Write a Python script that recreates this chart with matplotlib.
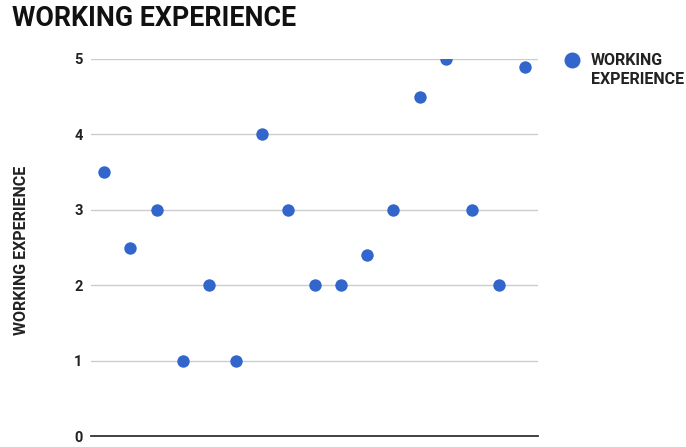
import matplotlib
matplotlib.use("Agg")
import matplotlib.pyplot as plt

# Data
series_name = "WORKING EXPERIENCE"
x_index = list(range(1, 18))
experience = [3.5, 2.5, 3, 1, 2, 1, 4, 3, 2, 2, 2.4, 3, 4.5, 5, 3, 2, 4.9]
y_ticks = [0, 1, 2, 3, 4, 5]

plt.rcParams['font.family'] = ['Roboto', 'DejaVu Sans']

fig = plt.figure(figsize=(6.86, 4.47), dpi=100)
ax = fig.add_axes([91/686, 1 - 436/447, (538 - 91)/686, (436 - 59)/447])

blue = "#3366CC"
ax.scatter(x_index, experience, s=80, color=blue, zorder=3, linewidths=0)

ax.set_xlim(0.5, 17.5)
ax.set_ylim(0, 5)
ax.set_yticks(y_ticks)
ax.set_yticklabels([str(t) for t in y_ticks], fontsize=10.5, fontweight='bold', color='#222222')
ax.set_xticks([])
ax.tick_params(axis='y', length=0, pad=6)

for t in y_ticks[1:]:
    ax.axhline(t, color='#cccccc', linewidth=1, zorder=1)
ax.axhline(0, color='#333333', linewidth=1.3, zorder=2, clip_on=False)

for s in ax.spines.values():
    s.set_visible(False)

fig.text(22/686, 1 - 250/447, series_name, fontsize=11.5, fontweight='bold',
         color='#222222', rotation=90, va='center', ha='center')

fig.text(12/686, 1 - 18/447, series_name, fontsize=19.3, fontweight='bold',
         color='#111111', va='center', ha='left')

# Legend
fig.lines.append(plt.Line2D([572/686], [1 - 60/447], marker='o', markersize=10.5,
                            color=blue, linestyle='none', transform=fig.transFigure))
fig.text(591/686, 1 - 70/447, "WORKING\nEXPERIENCE", fontsize=11.5, fontweight='bold',
         color='#222222', va='center', ha='left', linespacing=1.4)

fig.savefig("out.png", dpi=100)
